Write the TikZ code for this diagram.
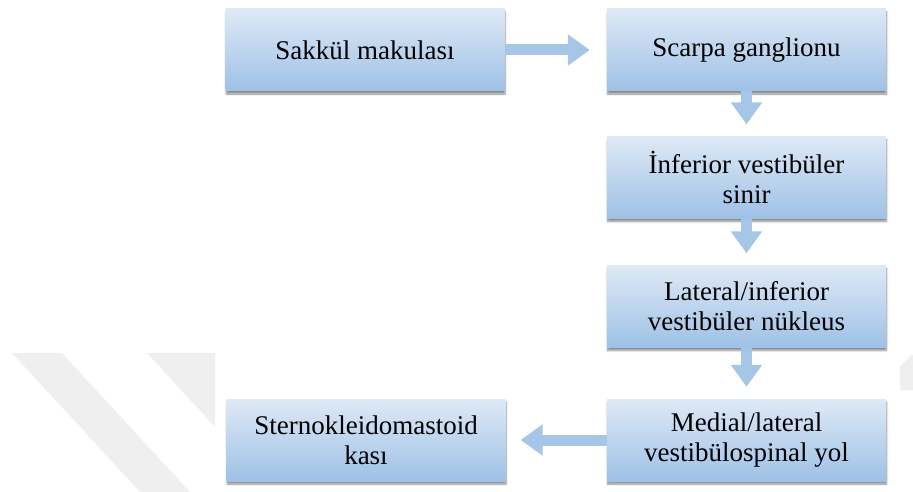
\documentclass[tikz,border=0pt]{standalone}
\usepackage{fontspec}
\setmainfont{Liberation Serif}
\usetikzlibrary{arrows.meta, shadows.blur}
\definecolor{boxtop}{RGB}{222,233,246}
\definecolor{boxbottom}{RGB}{158,193,230}
\definecolor{arrowblue}{RGB}{166,198,232}
\definecolor{wmgray}{RGB}{239,239,239}
\tikzstyle{box} = [rectangle, minimum width=279pt, minimum height=82pt, inner sep=0pt, top color=boxtop, bottom color=boxbottom, align=center, font=\fontsize{27}{30}\selectfont, blur shadow={shadow xshift=0.5pt, shadow yshift=-3pt, shadow blur steps=6, shadow opacity=45}]
\tikzstyle{flowarrow} = [line width=11pt, draw=arrowblue, -{Triangle[width=30pt,length=22pt]}]

\begin{document}
\begin{tikzpicture}[x=1pt,y=-1pt]
            \useasboundingbox (0,0) rectangle (913,492);
            \fill[wmgray] (12,353) -- (62,353) -- (190,492) -- (140,492) -- cycle;
            \fill[wmgray] (147,353) -- (215,353) -- (215,427) -- cycle;
            \fill[wmgray] (900,367) -- (911,355) -- (913,355) -- (913,390) -- (900,390) -- cycle;
            \node[box] (sakkul) at (365,50) {Sakkül makulası};
            \node[box] (scarpa) at (746.5,50) {Scarpa ganglionu};
            \node[box] (inferior) at (746.5,177.5) {İnferior vestibüler\\ sinir};
            \node[box] (lateral) at (746.5,306.5) {Lateral/inferior\\ vestibüler nükleus};
            \node[box] (medial) at (746.5,440) {Medial/lateral\\ vestibülospinal yol};
            \node[box] (sterno) at (366,440) {Sternokleidomastoid\\ kası};
            \draw[flowarrow] (sakkul.east) -- ([xshift=-17pt]scarpa.west);
            \draw[flowarrow] (scarpa.south) -- ([yshift=12pt]inferior.north);
            \draw[flowarrow] (inferior.south) -- ([yshift=12pt]lateral.north);
            \draw[flowarrow] (lateral.south) -- ([yshift=12pt]medial.north);
            \draw[flowarrow] (medial.west) -- ([xshift=15pt]sterno.east);
        \end{tikzpicture}
\end{document}
